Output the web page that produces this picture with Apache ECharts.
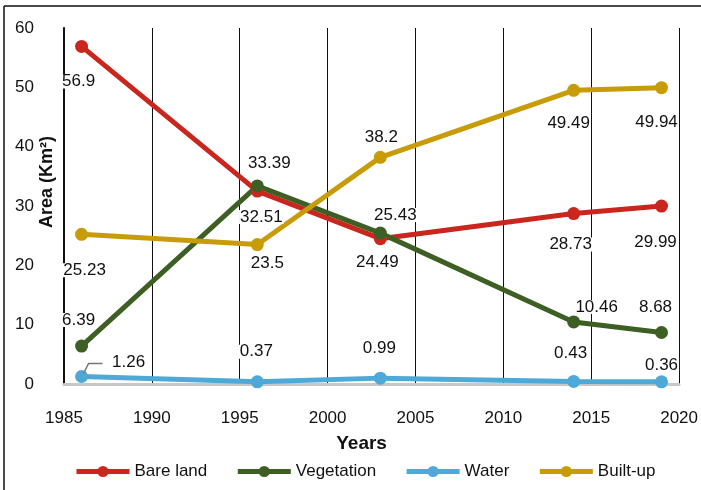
<!DOCTYPE html>
<html>
<head>
<meta charset="utf-8">
<script src="https://cdn.jsdelivr.net/npm/echarts@6/dist/echarts.min.js"></script>
<style>
  html, body { margin: 0; padding: 0; background: #fff; }
  #chart { width: 701px; height: 490px; }
</style>
</head>
<body>
<div id="chart"></div>
<script>
// Land-cover area by year (km²)
const years = [1986, 1996, 2003, 2014, 2019];
const bareLand = [56.9, 32.51, 24.49, 28.73, 29.99];
const vegetation = [6.39, 33.39, 25.43, 10.46, 8.68];
const water = [1.26, 0.37, 0.99, 0.43, 0.36];
const builtUp = [25.23, 23.5, 38.2, 49.49, 49.94];
const seriesNames = ['Bare land', 'Vegetation', 'Water', 'Built-up'];
const yearAxis = { min: 1985, max: 2020, step: 5 };
const areaAxis = { min: 0, max: 60, step: 10 };

// Label placement around each point: [dx, dy] from the point centre
const labelShift = {
  'Bare land':  [[-3, 35], [4, 26], [-3, 24], [-3, 31], [-6, 36]],
  'Vegetation': [[-3, -26], [12, -23], [15, -18], [23, -15], [-6, -25]],
  'Water':      [[47, -14], [-1, -30], [-1, -30], [-3, -28], [0, -17]],
  'Built-up':   [[3, 36], [10, 19], [1, -20], [-5, 33], [-5, 35]]
};
const colors = {
  'Bare land': '#c9271e',
  'Vegetation': '#3e5f24',
  'Water': '#4ea9d8',
  'Built-up': '#c89b08'
};
const FONT = '"Liberation Sans", Arial, Helvetica, sans-serif';

const valuesByName = {
  'Bare land': bareLand,
  'Vegetation': vegetation,
  'Water': water,
  'Built-up': builtUp
};

function makeSeries(name) {
  const vals = valuesByName[name];
  return {
    name: name,
    type: 'line',
    data: years.map((y, i) => ({
      value: [y, vals[i]],
      label: { offset: labelShift[name][i] }
    })),
    symbol: 'circle',
    symbolSize: 13,
    showSymbol: true,
    lineStyle: { width: 5, color: colors[name] },
    itemStyle: { color: colors[name] },
    label: {
      show: true,
      position: 'inside',
      formatter: p => String(p.value[1]),
      color: '#111',
      fontFamily: FONT,
      fontSize: 17,
      lineHeight: 14,
      backgroundColor: '#fff',
      padding: [0, 1]
    },
    emphasis: { disabled: true },
    animation: false
  };
}

const chart = echarts.init(document.getElementById('chart'), null, { renderer: 'canvas' });

chart.setOption({
  backgroundColor: '#fff',
  animation: false,
  textStyle: { fontFamily: FONT },
  grid: { left: 64, right: 21, top: 28, bottom: 106, containLabel: false },
  legend: {
    data: seriesNames,
    left: 69,
    top: 458,
    itemWidth: 53,
    itemHeight: 14,
    itemGap: 28,
    lineStyle: { width: 5 },
    textStyle: { fontFamily: FONT, fontSize: 17, color: '#111' }
  },
  xAxis: {
    type: 'value',
    min: yearAxis.min,
    max: yearAxis.max,
    interval: yearAxis.step,
    name: 'Years',
    nameLocation: 'middle',
    nameGap: 50,
    nameTextStyle: { fontFamily: FONT, fontSize: 19, fontWeight: 'bold', color: '#111', padding: [0, 20, 0, 0] },
    axisLine: { show: true, lineStyle: { color: '#c8c8c8', width: 3 } },
    axisTick: { show: false },
    axisLabel: { color: '#111', fontSize: 17, fontFamily: FONT, margin: 26, formatter: v => String(v) },
    splitLine: { show: true, lineStyle: { color: '#111', width: 1 } }
  },
  yAxis: {
    type: 'value',
    min: areaAxis.min,
    max: areaAxis.max,
    interval: areaAxis.step,
    axisLine: { show: true, lineStyle: { color: '#111', width: 2 } },
    axisTick: { show: false },
    axisLabel: { color: '#111', fontSize: 17, fontFamily: FONT, margin: 30 },
    splitLine: { show: false }
  },
  series: seriesNames.map(makeSeries),
  graphic: [
    { id: 'frameTop', type: 'line', shape: { x1: 4, y1: 6, x2: 701, y2: 6 }, style: { stroke: '#111', lineWidth: 1.5 }, silent: true },
    { id: 'frameLeft', type: 'line', shape: { x1: 4, y1: 6, x2: 4, y2: 490 }, style: { stroke: '#111', lineWidth: 1.5 }, silent: true },
    {
      id: 'yName', type: 'text', x: 47, y: 182, rotation: Math.PI / 2,
      style: { text: 'Area (Km²)', fontFamily: FONT, fontSize: 18, fontWeight: 'bold', fill: '#111', align: 'center', verticalAlign: 'middle' },
      silent: true
    }
  ]
});

// Guide line from the first water point to its label
const p0 = chart.convertToPixel({ gridIndex: 0 }, [years[0], water[0]]);
chart.setOption({
  graphic: [{
    id: 'waterGuide', type: 'polyline', z: 10,
    shape: { points: [[p0[0] + 2, p0[1] - 3], [p0[0] + 7, p0[1] - 13], [p0[0] + 21, p0[1] - 13]] },
    style: { stroke: '#777', lineWidth: 1.5, fill: null },
    silent: true
  }]
});
</script>
</body>
</html>
